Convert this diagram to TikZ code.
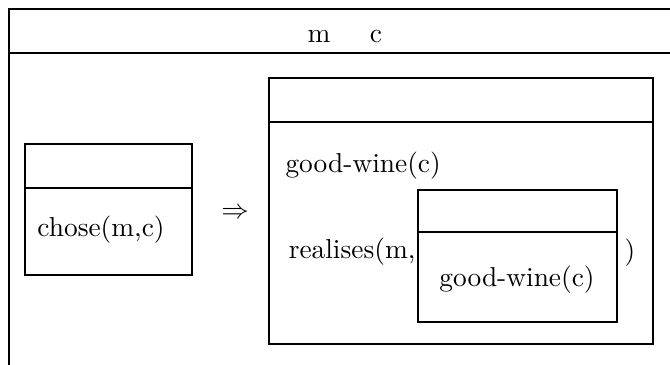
\documentclass[tikz,border=0pt]{standalone}
\usetikzlibrary{positioning}
\begin{document}
\begin{tikzpicture}[x=0.365pt, y=-0.365pt,
  drsline/.style={line width=0.6pt},
  cond/.style={inner sep=0pt, font=\normalsize}
]
  \useasboundingbox (0,0) rectangle (670,364);
  \clip (0,0) rectangle (670,364);
  % outer box, runs off the page on the right and at the bottom
  \draw[drsline] (9,380) -- (9,9) -- (690,9);
  \draw[drsline] (9,53) -- (690,53);
  \node[cond, anchor=base] (dm) at (319,42) {m};
  \node[cond, anchor=base] (dc) at (376,42) {c};

  % antecedent box
  \draw[drsline] (25,144) rectangle (192,275);
  \draw[drsline] (25,188) -- (192,188);
  \node[cond] (chose) at (101,230) {chose(m,c)};

  \node[cond, anchor=base] (impl) at (235,218) {$\Rightarrow$};

  % consequent box
  \draw[drsline] (269,78) rectangle (653,344);
  \draw[drsline] (269,122) -- (653,122);
  \node[cond, anchor=west] (gw) at (285,166) {good-wine(c)};
  \node[cond, anchor=east] (real) at (416,252) {realises(m,};
  % embedded box
  \draw[drsline] (418,190) rectangle (617,322);
  \draw[drsline] (418,232) -- (617,232);
  \node[cond] (gwin) at (517,280) {good-wine(c)};
  \node[cond] (close) at (630,253) {)};
\end{tikzpicture}
\end{document}
